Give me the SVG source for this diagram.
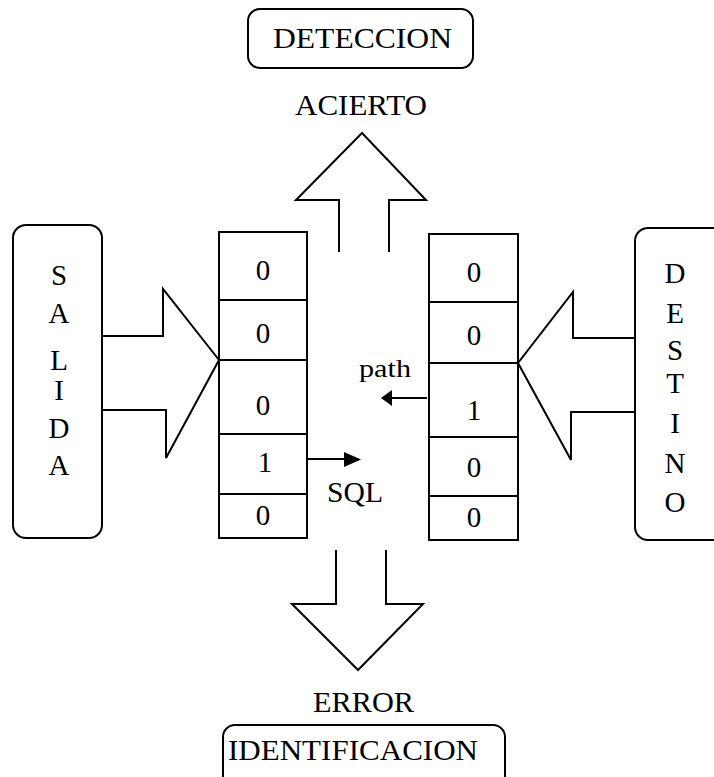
<svg xmlns="http://www.w3.org/2000/svg" width="714" height="777" viewBox="0 0 714 777">
<style>
.s{fill:none;stroke:#000;stroke-width:2}
.c{fill:#fff;stroke:#000;stroke-width:2}
text{font-family:"Liberation Serif","Times New Roman",serif;fill:#000;text-anchor:middle}
.t{font-size:30px}
.d{font-size:29px}
.v{font-size:29px}
.sm{font-size:25px}
</style>
<rect width="714" height="777" fill="#fff"/>
<g id="detection">
<rect class="c" x="248" y="9" width="225" height="59" rx="12"/>
<text class="t" x="362.5" y="48" textLength="179" lengthAdjust="spacingAndGlyphs">DETECCION</text>
</g>
<g id="identificacion">
<rect class="c" x="223" y="725" width="282" height="70" rx="12"/>
<text class="t" x="353" y="760" textLength="250" lengthAdjust="spacingAndGlyphs">IDENTIFICACION</text>
</g>
<g id="salida">
<rect class="c" x="13" y="225" width="89" height="313" rx="13"/>
<text class="v" x="59" y="285">S</text>
<text class="v" x="59" y="323">A</text>
<text class="v" x="59" y="370">L</text>
<text class="v" x="59" y="400">I</text>
<text class="v" x="59" y="438">D</text>
<text class="v" x="59" y="475">A</text>
</g>
<g id="destino">
<rect class="c" x="635" y="228" width="100" height="312" rx="13"/>
<text class="v" x="675" y="283">D</text>
<text class="v" x="675" y="323">E</text>
<text class="v" x="675" y="360">S</text>
<text class="v" x="675" y="393">T</text>
<text class="v" x="675" y="433">I</text>
<text class="v" x="675" y="473">N</text>
<text class="v" x="675" y="512">O</text>
</g>
<g id="left-stack">
<rect class="c" x="219" y="232" width="88" height="306"/>
<path class="s" d="M219 300H307M219 360H307M219 434H307M219 494H307"/>
<text class="d" x="263" y="280">0</text>
<text class="d" x="263" y="343">0</text>
<text class="d" x="263" y="415">0</text>
<text class="d" x="265" y="472">1</text>
<text class="d" x="263" y="525">0</text>
</g>
<g id="right-stack">
<rect class="c" x="429" y="234" width="89" height="306"/>
<path class="s" d="M429 302H518M429 363H518M429 437H518M429 496H518"/>
<text class="d" x="474" y="282">0</text>
<text class="d" x="474" y="345">0</text>
<text class="d" x="474" y="420">1</text>
<text class="d" x="474" y="477">0</text>
<text class="d" x="474" y="527">0</text>
</g>
<g id="connectors">
<polyline class="s" points="339,252 339,200 296,200 362,133 426,200 389,200 389,252"/>
<polyline class="s" points="336,550 336,604 292,604 358,670 423,604 386,604 386,550"/>
<polyline class="s" points="102,336 163,336 163,289 219,360 166,458 166,410 102,410"/>
<polyline class="s" points="635,338 573,338 573,292 518,363 571,460 571,412 635,412"/>
<line class="s" x1="427" y1="398" x2="390" y2="398"/>
<polygon points="392,390 381,398 392,406" fill="#000"/>
<line class="s" x1="307" y1="459" x2="346" y2="459"/>
<polygon points="344,452 361,459.5 344,467" fill="#000"/>
</g>
<g id="labels">
<text class="t" x="361" y="115" textLength="132" lengthAdjust="spacingAndGlyphs">ACIERTO</text>
<text class="t" x="363.5" y="712" textLength="101" lengthAdjust="spacingAndGlyphs">ERROR</text>
<text class="sm" x="385" y="377" textLength="52" lengthAdjust="spacingAndGlyphs">path</text>
<text class="t" x="355" y="502" textLength="56" lengthAdjust="spacingAndGlyphs">SQL</text>
</g>
</svg>
